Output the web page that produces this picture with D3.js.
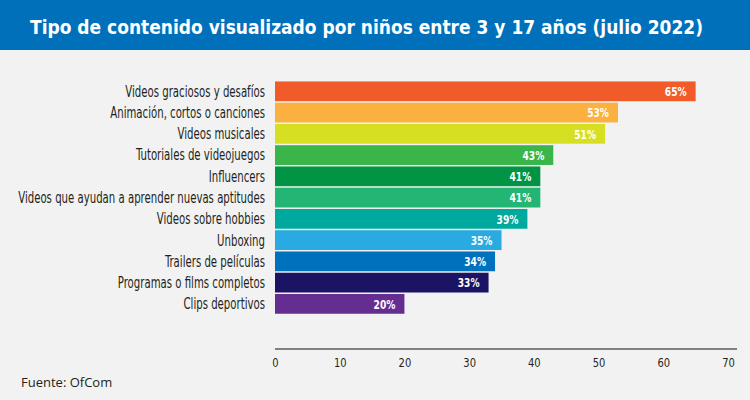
<!DOCTYPE html>
<html><head><meta charset="utf-8">
<script src="https://cdn.jsdelivr.net/npm/d3@7"></script>
<style>
html,body{margin:0;padding:0;background:#f2f2f2;}
svg{display:block;}
</style></head>
<body><svg id="c" width="750" height="400"></svg>
<script>
const title = "Tipo de contenido visualizado por niños entre 3 y 17 años (julio 2022)";
const source = "Fuente: OfCom";
const categories = [
  "Videos graciosos y desafíos",
  "Animación, cortos o canciones",
  "Videos musicales",
  "Tutoriales de videojuegos",
  "Influencers",
  "Videos que ayudan a aprender nuevas aptitudes",
  "Videos sobre hobbies",
  "Unboxing",
  "Trailers de películas",
  "Programas o films completos",
  "Clips deportivos"
];
const values = [65, 53, 51, 43, 41, 41, 39, 35, 34, 33, 20];
const colors = ["#f15a29","#fbb040","#d7df23","#39b54a","#009444","#22b573","#00a99d","#29abe2","#0071bc","#1b1464","#662d91"];
const ticks = [0, 10, 20, 30, 40, 50, 60, 70];

const FONT = "'DejaVu Sans Condensed','DejaVu Sans',sans-serif";
const svg = d3.select("#c");
svg.append("rect").attr("width",750).attr("height",400).attr("fill","#f2f2f2");
svg.append("rect").attr("width",750).attr("height",50).attr("fill","#0070ba");
svg.append("text").attr("x",30).attr("y",34)
  .attr("fill","#fff").attr("font-family",FONT).attr("font-stretch","condensed")
  .attr("font-weight","bold").attr("font-size",19.5)
  .attr("textLength",673).attr("lengthAdjust","spacingAndGlyphs").text(title);

const x = d3.scaleLinear().domain([0,70]).range([275,728]);
const y = d3.scaleBand().domain(categories).range([80.7,314.5]).paddingInner(0.07).paddingOuter(0.035);

const g = svg.append("g");
g.selectAll("rect.bar").data(values).join("rect").attr("class","bar")
  .attr("x",x(0)).attr("y",(d,i)=>y(categories[i]))
  .attr("width",d=>x(d)-x(0)).attr("height",y.bandwidth())
  .attr("fill",(d,i)=>colors[i]);

g.selectAll("text.val").data(values).join("text").attr("class","val")
  .attr("transform",(d,i)=>`translate(${x(d)-9},${y(categories[i])+y.bandwidth()/2}) scale(0.78,1)`)
  .attr("dy","0.36em").attr("text-anchor","end")
  .attr("fill","#fff").attr("font-weight","bold")
  .attr("font-family",FONT).attr("font-stretch","condensed")
  .attr("font-size",13).text(d=>d+"%");

const lab = svg.append("g");
const labTexts = lab.selectAll("text").data(categories).join("text")
  .attr("x",0).attr("y",d=>y(d)+y.bandwidth()/2).attr("dy","0.36em")
  .attr("text-anchor","end").attr("fill","#231f20")
  .attr("font-family",FONT).attr("font-stretch","condensed")
  .attr("font-size",15).text(d=>d);
let maxW = 0;
labTexts.each(function(){ maxW = Math.max(maxW, this.getComputedTextLength()); });
const sx = 247 / maxW;
lab.attr("transform",`translate(265,0) scale(${sx},1)`);

const axis = d3.axisBottom(x).tickValues(ticks).tickSize(0).tickPadding(9).tickFormat(d3.format("d"));
const ax = svg.append("g").attr("transform","translate(0,349)").call(axis);
ax.select(".domain").remove();
ax.append("line").attr("x1",275).attr("x2",737).attr("stroke","#111").attr("stroke-width",1.2);
ax.selectAll(".tick text").attr("fill","#231f20")
  .attr("font-family",FONT).attr("font-stretch","condensed").attr("font-size",13)
  .attr("transform","scale(0.85,1)");

svg.append("text").attr("x",21).attr("y",387).attr("fill","#231f20")
  .attr("font-family","'Open Sans','Liberation Sans',sans-serif").attr("font-size",13).text(source);
</script></body></html>
